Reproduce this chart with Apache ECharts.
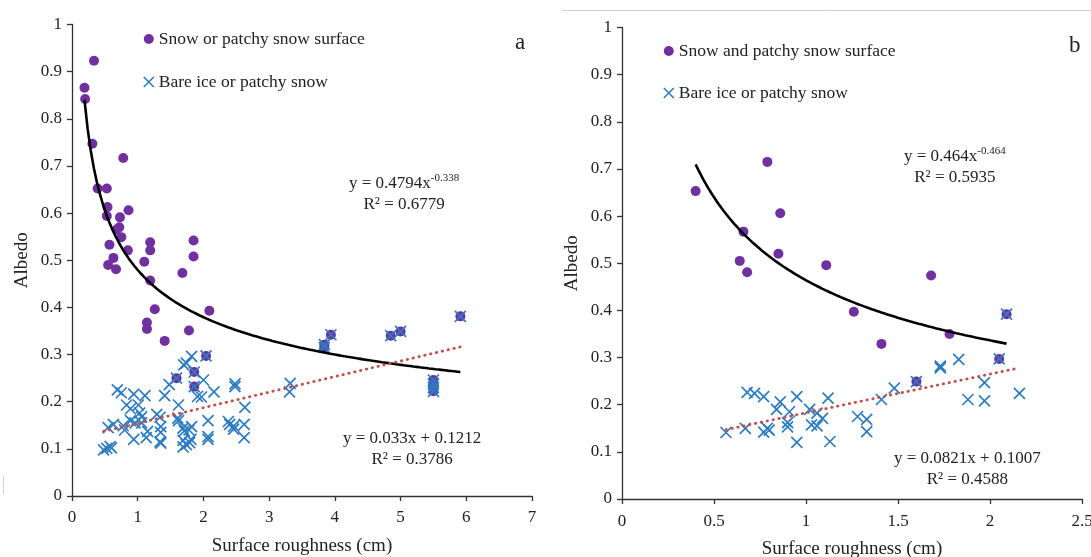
<!DOCTYPE html>
<html>
<head>
<meta charset="utf-8">
<script src="https://cdn.jsdelivr.net/npm/echarts@6/dist/echarts.min.js"></script>
<style>html,body{margin:0;padding:0;background:#fff}#c{width:1091px;height:557px}</style>
</head>
<body>
<div id="c"></div>
<script>
// ---------- data ----------
var snowA = [[0.19,0.866],[0.20,0.842],[0.335,0.923],[0.31,0.747],[0.78,0.717],[0.39,0.652],[0.53,0.652],[0.54,0.613],[0.86,0.606],[0.53,0.594],[0.73,0.591],[0.72,0.570],[0.68,0.565],[0.75,0.549],[0.57,0.533],[0.85,0.521],[1.19,0.538],[1.19,0.521],[1.85,0.542],[1.85,0.508],[0.63,0.505],[1.10,0.497],[0.55,0.490],[0.67,0.481],[1.68,0.473],[1.19,0.457],[1.26,0.396],[2.09,0.393],[1.14,0.368],[1.14,0.354],[1.78,0.351],[1.41,0.329],[2.04,0.297],[1.59,0.250],[1.86,0.263],[1.86,0.232],[3.84,0.321],[3.84,0.315],[3.94,0.342],[4.85,0.340],[5.00,0.349],[5.91,0.381],[5.50,0.246],[5.50,0.238],[5.50,0.230],[5.50,0.222]];
var bareA = [[1.82,0.296],[1.74,0.282],[1.70,0.278],[2.00,0.246],[1.48,0.236],[2.48,0.238],[2.48,0.232],[3.32,0.239],[3.31,0.221],[0.69,0.225],[0.75,0.219],[0.94,0.216],[1.11,0.213],[1.41,0.213],[1.91,0.211],[2.16,0.221],[1.97,0.210],[0.83,0.193],[1.01,0.193],[1.62,0.193],[2.63,0.188],[0.89,0.185],[1.03,0.176],[1.29,0.173],[1.34,0.167],[1.61,0.165],[1.62,0.160],[1.06,0.168],[0.89,0.160],[0.96,0.155],[1.06,0.155],[2.07,0.160],[2.38,0.158],[2.40,0.152],[2.46,0.148],[2.62,0.152],[0.55,0.145],[0.78,0.149],[0.63,0.152],[1.35,0.147],[1.69,0.144],[1.82,0.147],[1.78,0.140],[1.71,0.138],[2.46,0.142],[0.80,0.140],[1.15,0.137],[1.35,0.135],[1.13,0.124],[0.94,0.120],[1.34,0.115],[1.35,0.112],[1.69,0.118],[1.81,0.120],[1.79,0.113],[1.74,0.109],[1.69,0.104],[2.07,0.126],[2.07,0.120],[2.62,0.124],[0.53,0.101],[0.58,0.105],[0.48,0.098],[0.60,0.102],[2.04,0.297],[1.59,0.250],[1.86,0.263],[1.86,0.232],[3.84,0.321],[3.84,0.315],[3.94,0.342],[4.85,0.340],[5.00,0.349],[5.91,0.381],[5.50,0.246],[5.50,0.238],[5.50,0.230],[5.50,0.222]];
var snowB = [[0.40,0.653],[0.79,0.715],[0.86,0.606],[0.66,0.567],[0.64,0.505],[0.68,0.481],[0.85,0.520],[1.11,0.496],[1.26,0.397],[1.41,0.329],[1.68,0.474],[1.78,0.350],[2.09,0.392],[2.05,0.297],[1.60,0.249]];
var bareB = [[0.565,0.141],[0.67,0.150],[0.68,0.226],[0.72,0.224],[0.77,0.217],[0.79,0.150],[0.77,0.142],[0.80,0.146],[0.84,0.190],[0.86,0.206],[0.90,0.153],[0.90,0.162],[0.91,0.185],[0.95,0.217],[0.95,0.120],[1.02,0.190],[1.03,0.157],[1.06,0.182],[1.06,0.155],[1.09,0.171],[1.12,0.214],[1.13,0.122],[1.28,0.175],[1.33,0.169],[1.33,0.143],[1.41,0.211],[1.48,0.235],[1.60,0.249],[1.73,0.282],[1.73,0.278],[1.83,0.296],[1.88,0.211],[1.97,0.208],[1.97,0.247],[2.16,0.224],[2.05,0.297],[2.09,0.392]];

// fitted trend lines as printed on the figure: [coef, exponent or intercept, xStart, xEnd]
var powerFitA = [0.4794, -0.338, 0.19, 5.91];
var linearFitA = [0.033, 0.1212, 0.48, 5.91];
var powerFitB = [0.464, -0.464, 0.40, 2.09];
var linearFitB = [0.0821, 0.1007, 0.565, 2.16];

var namesA = ['Snow or patchy snow surface', 'Bare ice or patchy snow'];
var namesB = ['Snow and patchy snow surface', 'Bare ice or patchy snow'];
var yTicks = {min: 0, max: 1, interval: 0.1};
var xTicksA = {min: 0, max: 7, interval: 1};
var xTicksB = {min: 0, max: 2.5, interval: 0.5};

// ---------- helpers ----------
function powerCurve(f) {
  var pts = [], n = 120;
  for (var i = 0; i <= n; i++) { var x = f[2] + (f[3] - f[2]) * i / n; pts.push([x, f[0] * Math.pow(x, f[1])]); }
  return pts;
}
function linearLine(f) { return [[f[2], f[0] * f[2] + f[1]], [f[3], f[0] * f[3] + f[1]]]; }

var FONT = '"Liberation Serif", "Times New Roman", serif';
var PURPLE = '#7030A0', BLUE = '#2E7CC0', RED = '#C0504D', AX = '#333';
var XPATH = 'path://M0,0L10,10M10,0L0,10';

function xAxis(i, t, margin) {
  return {gridIndex: i, type: 'value', min: t.min, max: t.max, interval: t.interval,
    name: 'Surface roughness (cm)', nameLocation: 'middle', nameGap: 41,
    nameTextStyle: {fontFamily: FONT, fontSize: 19, color: '#222'},
    axisLine: {onZero: false, lineStyle: {color: AX, width: 1.3}},
    axisTick: {show: true, inside: false, length: 5, lineStyle: {color: AX, width: 1.3}},
    axisLabel: {fontFamily: FONT, fontSize: 17, color: '#222', margin: margin},
    splitLine: {show: false}};
}
function yAxis(i) {
  return {gridIndex: i, type: 'value', min: yTicks.min, max: yTicks.max, interval: yTicks.interval,
    name: 'Albedo', nameLocation: 'middle', nameGap: 40,
    nameTextStyle: {fontFamily: FONT, fontSize: 19, color: '#222'},
    axisLine: {show: true, onZero: false, lineStyle: {color: AX, width: 1.3}},
    axisTick: {show: true, inside: false, length: 5, lineStyle: {color: AX, width: 1.3}},
    axisLabel: {fontFamily: FONT, fontSize: 17, color: '#222', margin: 10},
    splitLine: {show: false}};
}
function dots(name, data, i) {
  return {type: 'scatter', name: name, xAxisIndex: i, yAxisIndex: i, data: data, symbol: 'circle', symbolSize: 10,
    itemStyle: {color: PURPLE, opacity: 1}, z: 3};
}
function crosses(name, data, i) {
  return {type: 'scatter', name: name, xAxisIndex: i, yAxisIndex: i, data: data, symbol: XPATH, symbolSize: 11,
    itemStyle: {color: 'rgba(0,0,0,0)', borderColor: BLUE, borderWidth: 1.7, opacity: 1}, z: 4};
}
function powerSeries(f, i) {
  return {type: 'line', xAxisIndex: i, yAxisIndex: i, data: powerCurve(f), showSymbol: false, silent: true,
    lineStyle: {color: '#000', width: 2.6}, z: 5};
}
function linSeries(f, i) {
  return {type: 'line', xAxisIndex: i, yAxisIndex: i, data: linearLine(f), showSymbol: false, silent: true,
    lineStyle: {color: RED, width: 2.8, type: [0.5, 5.5], cap: 'round'}, z: 5};
}
function legend(names, left, top, gap) {
  return {orient: 'vertical', left: left, top: top, itemGap: gap, itemWidth: 10, itemHeight: 10,
    textStyle: {fontFamily: FONT, fontSize: 17.5, color: '#222'}, selectedMode: false,
    data: [{name: names[0], icon: 'circle'}, {name: names[1], icon: XPATH,
      itemStyle: {color: 'rgba(0,0,0,0)', borderColor: BLUE, borderWidth: 1.6}}]};
}
function eqText(left, top, main, sup, r2) {
  return {type: 'text', left: left, top: top, style: {
    text: '{m|' + main + '}' + (sup ? '{s|' + sup + '}' : '') + '\n{r|' + r2 + '}',
    align: 'center', fill: '#222',
    rich: {m: {fontFamily: FONT, fontSize: 17, lineHeight: 21, fill: '#222'},
           s: {fontFamily: FONT, fontSize: 11, lineHeight: 21, verticalAlign: 'top', fill: '#222'},
           r: {fontFamily: FONT, fontSize: 17, lineHeight: 21, fill: '#222', align: 'center'}}}};
}

var chart = echarts.init(document.getElementById('c'), null, {renderer: 'canvas'});
chart.setOption({
  animation: false,
  backgroundColor: '#fff',
  grid: [
    {left: 72, top: 24.5, width: 460, height: 471.5, containLabel: false, outerBoundsMode: 'none'},
    {left: 622, top: 27.5, width: 460, height: 471.5, containLabel: false, outerBoundsMode: 'none'}
  ],
  xAxis: [xAxis(0, xTicksA, 13), xAxis(1, xTicksB, 14)],
  yAxis: [yAxis(0), yAxis(1)],
  legend: [legend(namesA, 138, 25, 25), legend(namesB, 658, 37, 24)],
  series: [
    dots(namesA[0], snowA, 0), crosses(namesA[1], bareA, 0),
    powerSeries(powerFitA, 0), linSeries(linearFitA, 0),
    dots(namesB[0], snowB, 1), crosses(namesB[1], bareB, 1),
    powerSeries(powerFitB, 1), linSeries(linearFitB, 1)
  ],
  graphic: [
    {type: 'line', shape: {x1: 562, y1: 10.5, x2: 1091, y2: 10.5}, style: {stroke: '#d0d0d0', lineWidth: 1}},
    {type: 'line', shape: {x1: 3.5, y1: 476, x2: 3.5, y2: 494}, style: {stroke: '#d0d0d0', lineWidth: 1}},
    {type: 'text', left: 515, top: 31, style: {text: 'a', fontFamily: FONT, fontSize: 23, fill: '#222'}},
    {type: 'text', left: 1069, top: 34, style: {text: 'b', fontFamily: FONT, fontSize: 23, fill: '#222'}},
    eqText(349, 173, 'y = 0.4794x', '-0.338', 'R² = 0.6779'),
    eqText(343, 430, 'y = 0.033x + 0.1212', '', 'R² = 0.3786'),
    eqText(904, 146, 'y = 0.464x', '-0.464', 'R² = 0.5935'),
    eqText(894, 450, 'y = 0.0821x + 0.1007', '', 'R² = 0.4588')
  ]
});
</script>
</body>
</html>
